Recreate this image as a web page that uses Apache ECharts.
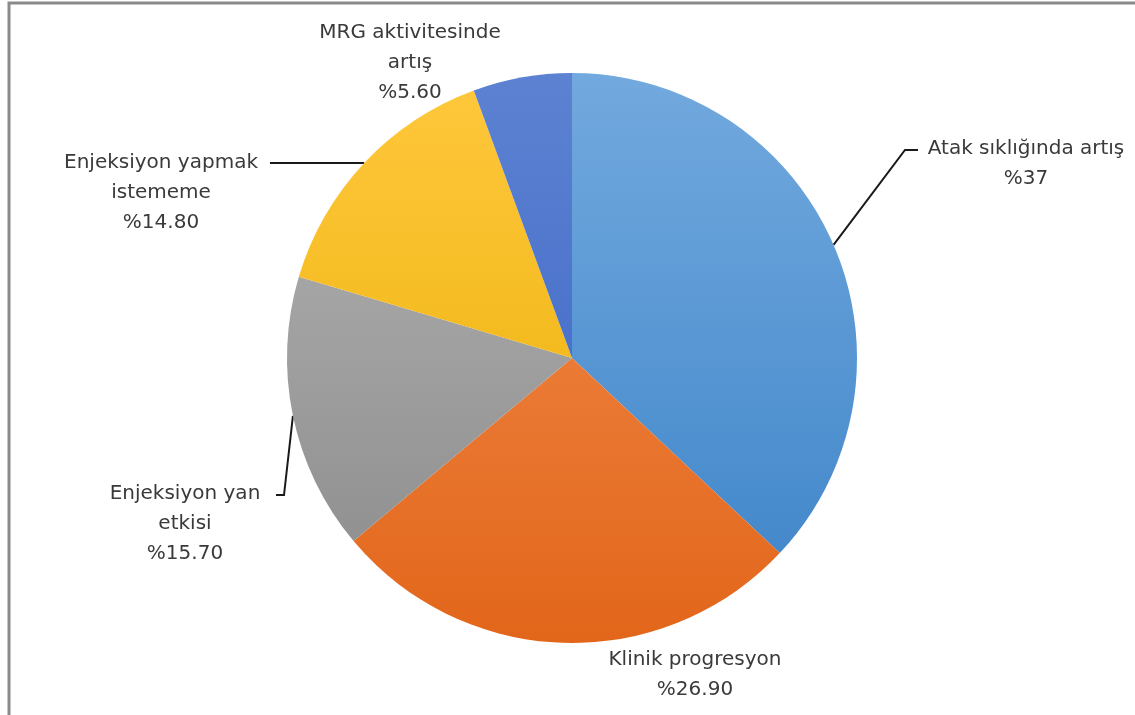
<!DOCTYPE html>
<html>
<head>
<meta charset="utf-8">
<script src="https://cdn.jsdelivr.net/npm/echarts@6/dist/echarts.min.js"></script>
<style>
  html, body { margin: 0; padding: 0; background: #fff; }
  #chart { width: 1135px; height: 715px; }
</style>
</head>
<body>
<div id="chart"></div>
<script>
// data
const categories = [
  'Atak sıklığında artış',
  'Klinik progresyon',
  'Enjeksiyon yan\netkisi',
  'Enjeksiyon yapmak\nistememe',
  'MRG aktivitesinde\nartış'
];
const values = [37, 26.9, 15.7, 14.8, 5.6];
const valueLabels = ['%37', '%26.90', '%15.70', '%14.80', '%5.60'];

// Excel-like colours, light (top) to dark (bottom)
const colorsTop = ['#72a9de', '#f38f52', '#b4b4b4', '#ffc83d', '#5d82d2'];
const colorsBottom = ['#3c83c8', '#e2661a', '#8a8a8a', '#e8ad00', '#3762c4'];

// label placement (centre x, top y of text block) and leader line elbow
const labelPos = [
  { x: 1026, y: 134, elbow: [905, 150], end: [918, 150] },
  { x: 695, y: 645 },
  { x: 185, y: 479, elbow: [284, 495], end: [276, 495] },
  { x: 161, y: 148, flat: true, end: [270, 0] },
  { x: 410, y: 18 }
];

const cx = 572, cy = 358, R = 285;

const chart = echarts.init(document.getElementById('chart'));

const data = values.map((v, i) => ({
  name: categories[i],
  value: v,
  itemStyle: {
    color: new echarts.graphic.LinearGradient(0, cy - R, 0, cy + R, [
      { offset: 0, color: colorsTop[i] },
      { offset: 1, color: colorsBottom[i] }
    ], true)
  }
}));

chart.setOption({
  backgroundColor: '#fff',
  animation: false,
  graphic: [
    {
      type: 'polyline',
      shape: { points: [[9, 715], [9, 3], [1135, 3]] },
      style: { stroke: '#8a8a8a', lineWidth: 3, fill: null }
    }
  ],
  series: [
    {
      type: 'pie',
      center: [cx, cy],
      radius: R,
      startAngle: 90,
      clockwise: true,
      data: data,
      itemStyle: { borderWidth: 0 },
      label: {
        show: true,
        position: 'outside',
        formatter: p => p.name + '\n' + valueLabels[p.dataIndex],
        color: '#3a3a3a',
        fontFamily: 'DejaVu Sans',
        fontSize: 20,
        lineHeight: 30
      },
      labelLine: {
        show: true,
        lineStyle: { color: '#1a1a1a', width: 2 }
      },
      labelLayout: function (params) {
        const lp = labelPos[params.dataIndex];
        const out = { x: lp.x, y: lp.y, align: 'center', verticalAlign: 'top' };
        if (lp.end) {
          const p0 = params.labelLinePoints[0];
          out.labelLinePoints = lp.flat
            ? [p0, [(p0[0] + lp.end[0]) / 2, p0[1]], [lp.end[0], p0[1]]]
            : [p0, lp.elbow, lp.end];
        } else {
          out.labelLinePoints = [[0, 0], [0, 0], [0, 0]];
        }
        return out;
      }
    }
  ]
});
</script>
</body>
</html>
